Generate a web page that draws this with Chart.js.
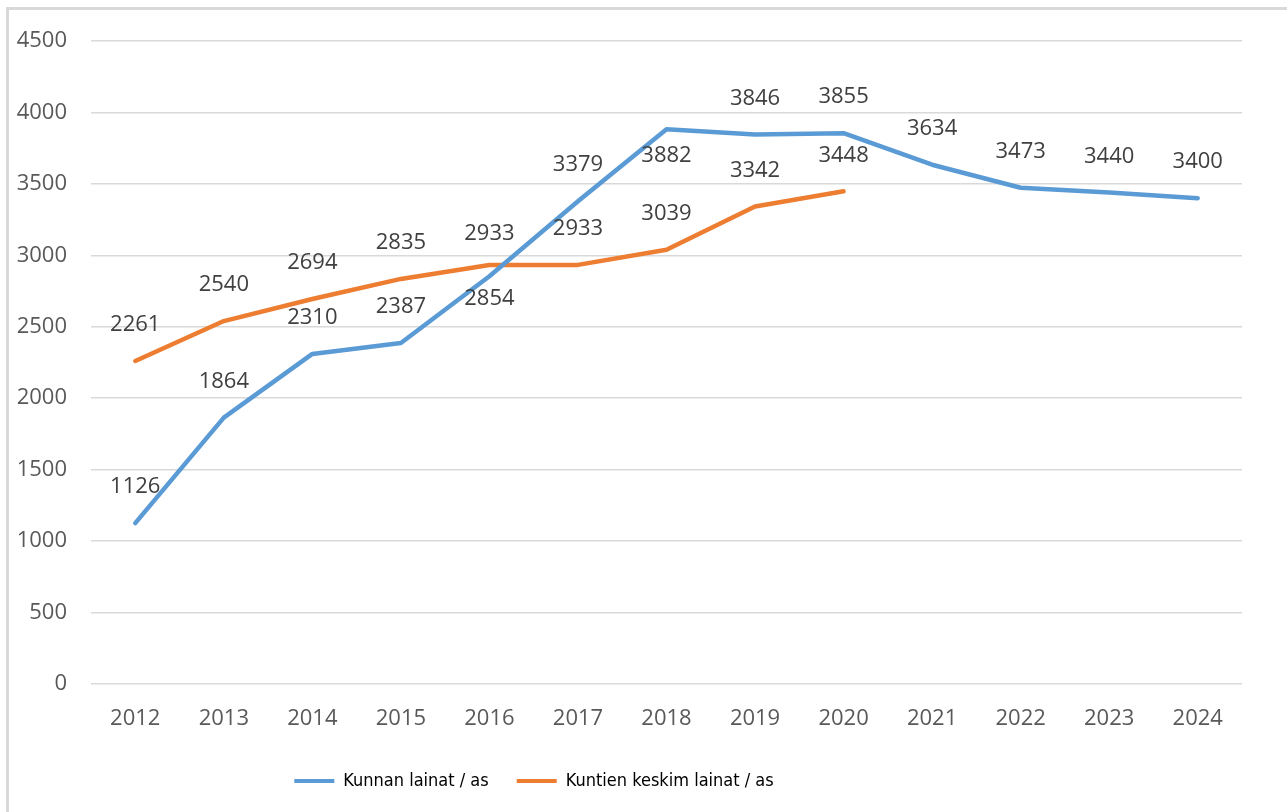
<!DOCTYPE html>
<html>
<head>
<meta charset="utf-8">
<script src="https://cdn.jsdelivr.net/npm/chart.js@4"></script>
<style>
  html, body { margin: 0; padding: 0; background: #fff; }
  #wrap { position: relative; width: 1287px; height: 812px; overflow: hidden; }
  #frame { position: absolute; left: 6px; top: 7px; width: 1300px; height: 820px;
           border-left: 3px solid #D9D9D9; border-top: 3px solid #D9D9D9; box-sizing: border-box; }
  canvas { position: absolute; left: 0; top: 0; }
</style>
</head>
<body>
<div id="wrap">
  <div id="frame"></div>
  <canvas id="chart" width="1287" height="812"></canvas>
</div>
<script>
// Vuodet ja sarjat
const years = ['2012', '2013', '2014', '2015', '2016', '2017', '2018', '2019', '2020', '2021', '2022', '2023', '2024'];
const kunnanLainat = [1126, 1864, 2310, 2387, 2854, 3379, 3882, 3846, 3855, 3634, 3473, 3440, 3400];
const kuntienKeskim = [2261, 2540, 2694, 2835, 2933, 2933, 3039, 3342, 3448, null, null, null, null];
const yTicks = [0, 500, 1000, 1500, 2000, 2500, 3000, 3500, 4000, 4500];

// label nudges (px) where Excel moved a label below the line
const blueLabelDy = [-36, -36, -36, -36, 23, -36, 26, -36, -36, -36, -36, -36, -36];
const orangeLabelDy = [-36, -36, -36, -36, -31, -36, -36, -36, -36];

const FONT = '"Open Sans", "Noto Sans", sans-serif';

const dataLabels = {
    id: 'dataLabels',
    afterDatasetsDraw(chart) {
        const { ctx } = chart;
        const nudges = [blueLabelDy, orangeLabelDy];
        ctx.save();
        ctx.font = '22px ' + FONT;
        ctx.fillStyle = '#404040';
        ctx.textAlign = 'center';
        ctx.textBaseline = 'middle';
        chart.data.datasets.forEach((ds, di) => {
            chart.getDatasetMeta(di).data.forEach((pt, i) => {
                const v = ds.data[i];
                if (v === null || v === undefined) return;
                ctx.fillText(String(v), pt.x, pt.y + nudges[di][i]);
            });
        });
        ctx.restore();
    }
};

// the original legend sits left of centre
const legendShift = {
    id: 'legendShift',
    afterLayout(chart) {
        if (!chart.legend) return;
        chart.legend.left -= 92;
        chart.legend.right -= 92;
    }
};

new Chart(document.getElementById('chart'), {
    type: 'line',
    data: {
        labels: years,
        datasets: [
            {
                label: 'Kunnan lainat / as',
                data: kunnanLainat,
                borderColor: '#5B9BD5',
                backgroundColor: '#5B9BD5',
                borderWidth: 4.5,
                pointRadius: 0,
                tension: 0,
                borderCapStyle: 'round',
                borderJoinStyle: 'round'
            },
            {
                label: 'Kuntien keskim lainat / as',
                data: kuntienKeskim,
                borderColor: '#ED7D31',
                backgroundColor: '#ED7D31',
                borderWidth: 4.5,
                pointRadius: 0,
                tension: 0,
                borderCapStyle: 'round',
                borderJoinStyle: 'round'
            }
        ]
    },
    options: {
        responsive: false,
        animation: false,
        layout: { padding: { left: 10, right: 45, top: 41, bottom: 12 } },
        plugins: {
            legend: {
                position: 'bottom',
                labels: {
                    boxWidth: 40,
                    boxHeight: 4,
                    padding: 28,
                    color: '#262626',
                    font: { family: '"DejaVu Sans Condensed", "Open Sans", sans-serif', size: 18 },
                    generateLabels: chart => chart.data.datasets.map((ds, i) => ({
                        text: ds.label,
                        fillStyle: ds.borderColor,
                        strokeStyle: ds.borderColor,
                        lineWidth: 0,
                        datasetIndex: i
                    }))
                }
            },
            tooltip: { enabled: false }
        },
        scales: {
            x: {
                offset: true,
                grid: { display: false },
                border: { display: false },
                ticks: { color: '#595959', font: { family: FONT, size: 22 }, padding: 14, maxRotation: 0 },
                afterFit: s => { s.height = 60; }
            },
            y: {
                min: 0,
                max: 4500,
                afterBuildTicks: s => { s.ticks = yTicks.map(v => ({ value: v })); },
                grid: { color: '#D9D9D9', lineWidth: 1.5, drawTicks: false },
                border: { display: false },
                ticks: { color: '#595959', font: { family: FONT, size: 22 }, padding: 24, callback: v => String(v) },
                afterFit: s => { s.width = 81; }
            }
        }
    },
    plugins: [dataLabels, legendShift]
});
</script>
</body>
</html>
